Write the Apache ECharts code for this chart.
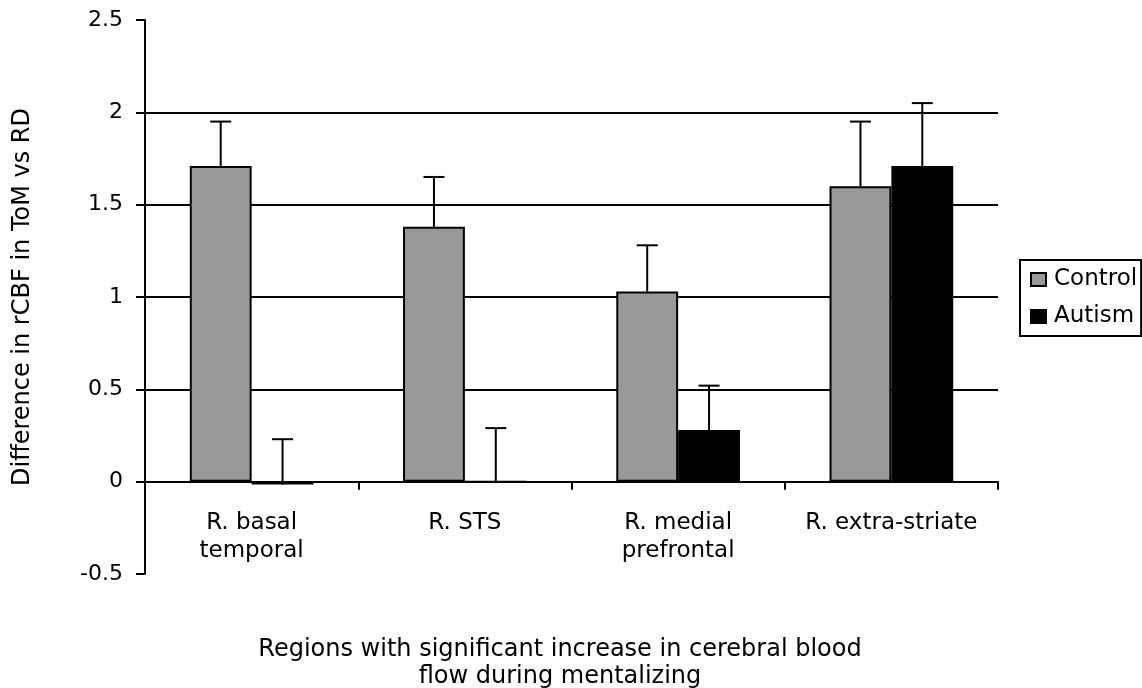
<!DOCTYPE html>
<html>
<head>
<meta charset="utf-8">
<script src="https://cdn.jsdelivr.net/npm/echarts@6/dist/echarts.min.js"></script>
<style>html,body{margin:0;padding:0;background:#fff;}#c{width:1142px;height:688px;}</style>
</head>
<body>
<div id="c"></div>
<script>
var categories = ['R. basal\ntemporal', 'R. STS', 'R. medial\nprefrontal', 'R. extra-striate'];
var controlValues = [1.71, 1.38, 1.03, 1.60];
var controlErrors = [0.24, 0.27, 0.25, 0.35];
var autismValues = [-0.015, 0, 0.28, 1.71];
var autismErrors = [0.245, 0.29, 0.24, 0.34];
var yTicks = [-0.5, 0, 0.5, 1, 1.5, 2, 2.5];

var FONT = 'DejaVu Sans';
var chart = echarts.init(document.getElementById('c'));
var catGap = 0.42;

function errorSeries(name, values, errors, side) {
  var data = values.map(function (v, i) { return [i, v, v + errors[i]]; });
  return {
    type: 'custom',
    name: name + ' error',
    silent: true,
    z: 5,
    xAxisIndex: 0,
    renderItem: function (params, api) {
      var idx = api.value(0);
      var band = api.size([1, 0])[0];
      var barW = band * (1 - catGap) / 2;
      var base = api.coord([idx, api.value(1)]);
      var top = api.coord([idx, api.value(2)]);
      var x = base[0] + side * barW / 2;
      var cap = 10.5;
      var st = { stroke: '#000', lineWidth: 2 };
      return {
        type: 'group',
        children: [
          { type: 'line', shape: { x1: x, y1: base[1], x2: x, y2: top[1] }, style: st },
          { type: 'line', shape: { x1: x - cap, y1: top[1], x2: x + cap, y2: top[1] }, style: st }
        ]
      };
    },
    encode: { x: 0, y: [1, 2] },
    data: data
  };
}

chart.setOption({
  animation: false,
  backgroundColor: '#fff',
  textStyle: { fontFamily: FONT },
  grid: { left: 145, right: 144, top: 20, bottom: 114, containLabel: false },
  title: {
    text: 'Regions with significant increase in cerebral blood\nflow during mentalizing',
    left: 555, top: 631, textAlign: 'center',
    textStyle: { fontFamily: FONT, fontWeight: 'normal', fontSize: 24, lineHeight: 27, color: '#000' }
  },
  legend: {
    orient: 'vertical',
    left: 1020, top: 260,
    itemWidth: 15, itemHeight: 13, itemGap: 14,
    padding: [8, 4, 8, 10],
    borderColor: '#000', borderWidth: 2,
    backgroundColor: '#fff',
    textStyle: { fontFamily: FONT, fontSize: 23, color: '#000', padding: [0, 0, 0, 3] },
    data: [
      { name: 'Control', icon: 'rect' },
      { name: 'Autism', icon: 'rect' }
    ]
  },
  xAxis: [
    {
      type: 'category',
      data: categories,
      position: 'bottom',
      axisLine: { onZero: true, lineStyle: { color: '#000', width: 2 } },
      axisTick: { show: true, length: 8, lineStyle: { color: '#000', width: 2 } },
      axisLabel: { show: false },
      splitLine: { show: false }
    },
    {
      type: 'category',
      data: categories,
      position: 'bottom',
      axisLine: { show: false, onZero: false },
      axisTick: { show: false },
      axisLabel: { color: '#000', fontFamily: FONT, fontSize: 23, lineHeight: 28, margin: -65, interval: 0 },
      splitLine: { show: false }
    }
  ],
  yAxis: {
    type: 'value',
    min: -0.5, max: 2.5, interval: 0.5,
    name: 'Difference in rCBF in ToM vs RD',
    nameLocation: 'middle', nameGap: 110, nameRotate: 90,
    nameTextStyle: { fontFamily: FONT, fontSize: 24, color: '#000' },
    axisLine: { show: true, lineStyle: { color: '#000', width: 2 } },
    axisTick: { show: true, length: 9, lineStyle: { color: '#000', width: 2 } },
    axisLabel: {
      color: '#000', fontFamily: FONT, fontSize: 22, margin: 22,
      formatter: function (v) {
        for (var i = 0; i < yTicks.length; i++) if (Math.abs(yTicks[i] - v) < 1e-9) return String(yTicks[i]);
        return '';
      }
    },
    splitLine: { show: true, showMinLine: false, showMaxLine: false, lineStyle: { color: '#000', width: 2 } }
  },
  series: [
    {
      name: 'Control', type: 'bar', data: controlValues,
      barGap: '0%', barCategoryGap: (catGap * 100) + '%',
      itemStyle: { color: '#999999', borderColor: '#000', borderWidth: 2 },
      z: 3
    },
    {
      name: 'Autism', type: 'bar', data: autismValues,
      itemStyle: { color: '#000000', borderColor: '#000', borderWidth: 2 },
      z: 3
    },
    errorSeries('Control', controlValues, controlErrors, -1),
    errorSeries('Autism', autismValues, autismErrors, 1)
  ]
});
</script>
</body>
</html>
